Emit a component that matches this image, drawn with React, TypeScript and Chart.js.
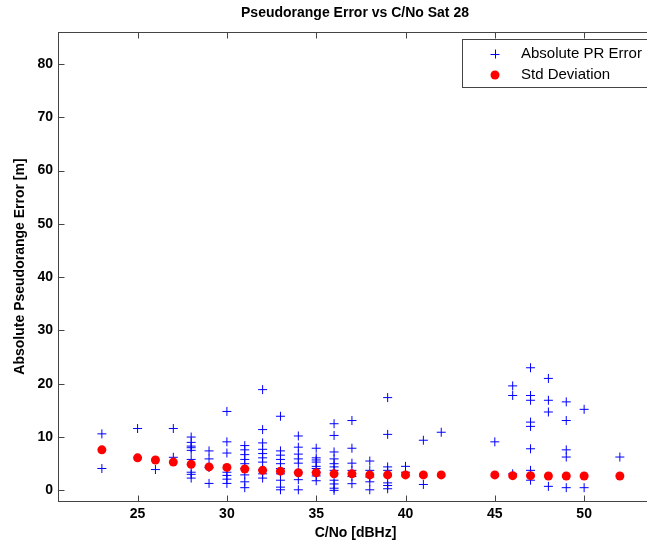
import React, { useEffect, useRef } from "react";
import { Chart, registerables } from "chart.js";

Chart.register(...registerables);

// ---- data ----
const chartTitle = "Pseudorange Error vs C/No Sat 28";
const xAxisTitle = "C/No [dBHz]";
const yAxisTitle = "Absolute Pseudorange Error [m]";
const seriesNames = ["Absolute PR Error", "Std Deviation"];

const xTickValues = [25, 30, 35, 40, 45, 50];
const yTickValues = [0, 10, 20, 30, 40, 50, 60, 70, 80];

// C/No values where absolute PR errors were observed, with the errors at each
const prCno = [23, 25, 26, 27, 28, 29, 30, 31, 32, 33, 34, 35, 36, 37, 38, 39, 40, 41, 42, 45, 46, 47, 48, 49, 50, 52];
const prErrors = [
  [10.6, 4.1],
  [11.6],
  [3.9],
  [11.6, 6.2],
  [10.0, 9.0, 8.3, 8.0, 7.5, 5.8, 3.4, 3.0, 2.3],
  [7.4, 5.9, 4.3, 1.3],
  [14.8, 9.1, 7.0, 3.4, 2.8, 2.1, 1.3],
  [8.4, 7.6, 6.7, 5.8, 5.0, 4.1, 2.9, 1.6, 0.5],
  [18.9, 11.4, 8.9, 7.7, 6.9, 6.1, 5.3, 3.9, 3.1, 2.3],
  [13.9, 7.4, 6.6, 5.8, 5.0, 4.1, 3.1, 1.9, 0.6, 0.1],
  [10.2, 8.1, 6.8, 5.9, 5.1, 3.4, 2.0, 0.1],
  [7.9, 6.1, 5.7, 5.3, 4.5, 4.1, 3.4, 2.7, 1.8],
  [12.5, 10.3, 7.2, 5.9, 5.0, 4.4, 3.75, 1.9, 1.2, 0.4, 0.0],
  [13.1, 7.9, 5.1, 3.75, 2.6, 1.25],
  [5.5, 3.75, 2.5, 1.6, 0.1],
  [17.4, 10.5, 4.4, 3.75, 1.4, 0.9, 0.3],
  [4.5, 3.4],
  [9.4, 1.1],
  [10.9],
  [9.1],
  [19.6, 17.8, 3.1],
  [23.0, 17.8, 16.9, 12.8, 12.0, 7.8, 3.75, 2.8, 1.9],
  [21.0, 16.9, 14.7, 0.75],
  [16.6, 13.1, 7.6, 6.25, 0.5],
  [15.2, 0.5],
  [6.25],
];

const stdCno = [23, 25, 26, 27, 28, 29, 30, 31, 32, 33, 34, 35, 36, 37, 38, 39, 40, 41, 42, 45, 46, 47, 48, 49, 50, 52];
const stdDeviation = [7.6, 6.1, 5.7, 5.3, 4.9, 4.4, 4.3, 4.0, 3.75, 3.6, 3.3, 3.3, 3.1, 3.1, 2.9, 2.9, 2.9, 2.9, 2.9, 2.9, 2.75, 2.75, 2.7, 2.7, 2.7, 2.7];

// ---- styling ----
const FONT = "'Liberation Sans', Arial, Helvetica, sans-serif";
const BLUE = "#0000ff";
const RED = "#ff0000";
const AXIS = "#444444";

const framePlugin = {
  id: "matlabFrame",
  beforeDatasetsDraw(chart: any) {
    const { ctx, chartArea, scales } = chart;
    const { left, right, top, bottom } = chartArea;
    const L = Math.round(left) - 0.5;
    const R = Math.round(right) - 0.5;
    const T = Math.round(top) + 0.5;
    const B = Math.round(bottom) + 0.5;
    ctx.save();
    ctx.strokeStyle = AXIS;
    ctx.lineWidth = 1;
    ctx.strokeRect(L, T, R - L, B - T);
    const tl = 6;
    ctx.beginPath();
    for (const v of xTickValues) {
      const px = Math.round(scales.x.getPixelForValue(v)) + 0.5;
      ctx.moveTo(px, B);
      ctx.lineTo(px, B - tl);
      ctx.moveTo(px, T);
      ctx.lineTo(px, T + tl);
    }
    for (const v of yTickValues) {
      const py = Math.round(scales.y.getPixelForValue(v)) + 0.5;
      ctx.moveTo(L, py);
      ctx.lineTo(L + tl, py);
    }
    ctx.stroke();
    ctx.restore();
  },
  afterDraw(chart: any) {
    const { ctx } = chart;
    ctx.save();
    // legend box
    const bx = 462.5, by = 39.5, bw = 200, bh = 48;
    ctx.fillStyle = "#ffffff";
    ctx.fillRect(bx, by, bw, bh);
    ctx.strokeStyle = AXIS;
    ctx.lineWidth = 1;
    ctx.strokeRect(bx, by, bw, bh);
    // cross marker
    const mx = 495;
    const r1 = 54, r2 = 75;
    ctx.strokeStyle = BLUE;
    ctx.beginPath();
    ctx.moveTo(mx - 4.5, r1 + 0.5);
    ctx.lineTo(mx + 4.5, r1 + 0.5);
    ctx.moveTo(mx + 0.5, r1 - 4.5);
    ctx.lineTo(mx + 0.5, r1 + 4.5);
    ctx.stroke();
    // dot marker
    ctx.fillStyle = RED;
    ctx.beginPath();
    ctx.arc(mx, r2, 4.5, 0, Math.PI * 2);
    ctx.fill();
    // texts
    ctx.fillStyle = "#000000";
    ctx.font = `15px ${FONT}`;
    ctx.textAlign = "left";
    ctx.textBaseline = "middle";
    ctx.fillText(seriesNames[0], 521, r1);
    ctx.fillText(seriesNames[1], 521, r2);
    ctx.restore();
  },
};

export default function App() {
  const canvasRef = useRef<HTMLCanvasElement | null>(null);

  useEffect(() => {
    if (!canvasRef.current) return;
    const prPoints: { x: number; y: number }[] = [];
    prCno.forEach((c, i) => {
      prErrors[i].forEach((e) => prPoints.push({ x: c, y: e }));
    });
    const stdPoints = stdCno.map((c, i) => ({ x: c, y: stdDeviation[i] }));

    const chart = new Chart(canvasRef.current, {
      type: "scatter",
      data: {
        datasets: [
          {
            label: seriesNames[0],
            data: prPoints,
            pointStyle: "cross",
            pointRadius: 4.5,
            borderColor: BLUE,
            backgroundColor: BLUE,
            borderWidth: 1,
            order: 2,
          },
          {
            label: seriesNames[1],
            data: stdPoints,
            pointStyle: "circle",
            pointRadius: 4.5,
            borderColor: RED,
            backgroundColor: RED,
            borderWidth: 0,
            order: 1,
          },
        ],
      },
      options: {
        responsive: false,
        animation: false,
        events: [],
        layout: { padding: 0 },
        plugins: {
          legend: { display: false },
          tooltip: { enabled: false },
          title: {
            display: true,
            text: chartTitle,
            color: "#000000",
            font: { family: FONT, size: 14, weight: "bold", lineHeight: 1.2 },
            padding: { top: 5, bottom: 10.2 },
          },
        },
        scales: {
          x: {
            type: "linear",
            position: "bottom",
            min: 20.6,
            max: 53.8,
            grid: { display: false, drawTicks: false },
            border: { display: false },
            afterBuildTicks: (s: any) => {
              s.ticks = xTickValues.map((v) => ({ value: v }));
            },
            afterFit: (s: any) => {
              s.height = 42;
            },
            ticks: {
              color: "#000000",
              padding: 5,
              maxRotation: 0,
              autoSkip: false,
              font: { family: FONT, size: 14, weight: "bold", lineHeight: 1.2 },
            },
            title: {
              display: true,
              text: xAxisTitle,
              color: "#000000",
              font: { family: FONT, size: 14, weight: "bold", lineHeight: 1.2 },
              padding: { top: 0, bottom: 1 },
            },
          },
          y: {
            type: "linear",
            position: "left",
            min: -2,
            max: 86,
            grid: { display: false, drawTicks: false },
            border: { display: false },
            afterBuildTicks: (s: any) => {
              s.ticks = yTickValues.map((v) => ({ value: v }));
            },
            afterFit: (s: any) => {
              s.width = 59;
            },
            ticks: {
              color: "#000000",
              padding: 6,
              autoSkip: false,
              font: { family: FONT, size: 14, weight: "bold", lineHeight: 1.2 },
            },
            title: {
              display: true,
              text: yAxisTitle,
              color: "#000000",
              font: { family: FONT, size: 14, weight: "bold", lineHeight: 1.2 },
              padding: { top: 11.6, bottom: 0 },
            },
          },
          yRight: {
            type: "linear",
            position: "right",
            min: -2,
            max: 86,
            display: true,
            grid: { display: false, drawTicks: false },
            border: { display: false },
            ticks: { display: false },
            afterFit: (s: any) => {
              s.width = 58;
            },
          },
        },
      },
      plugins: [framePlugin],
    } as any);

    return () => chart.destroy();
  }, []);

  return (
    <div
      style={{
        position: "fixed",
        left: 0,
        top: 0,
        width: 647,
        height: 543,
        overflow: "hidden",
        background: "#ffffff",
      }}
    >
      <canvas ref={canvasRef} width={710} height={543} style={{ display: "block" }} />
    </div>
  );
}
